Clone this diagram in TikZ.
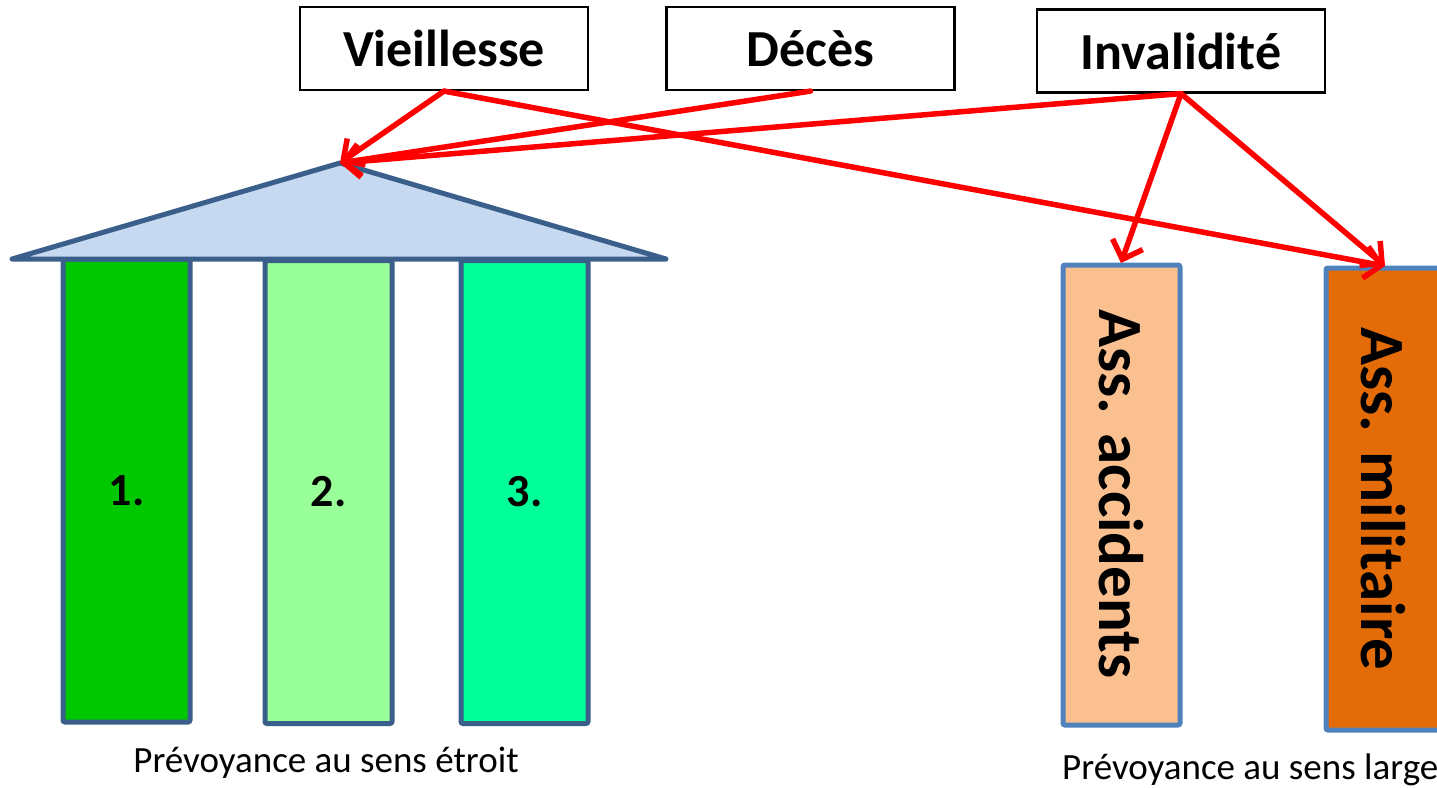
\documentclass[tikz,border=0pt]{standalone}
\usepackage{fontspec}
\setmainfont{Carlito}
\usetikzlibrary{arrows.meta}
\definecolor{roofF}{HTML}{C6D9F1}
\definecolor{roofD}{HTML}{3A5F8B}
\definecolor{colA}{HTML}{00C800}
\definecolor{colB}{HTML}{99FF99}
\definecolor{colC}{HTML}{00FF99}
\definecolor{accF}{HTML}{FAC090}
\definecolor{milF}{HTML}{E36C09}
\definecolor{sideD}{HTML}{4F81BD}
\definecolor{arrR}{HTML}{FF0000}
\tikzset{
  riskbox/.style={draw=black, line width=2.2pt, fill=white, minimum width=288pt, minimum height=83pt, inner sep=0pt,
    font=\fontsize{52}{60}\selectfont\bfseries},
  pillar/.style={draw=roofD, line width=5pt, rounded corners=2pt, minimum width=127pt, minimum height=463pt, inner sep=0pt,
    font=\fontsize{46}{52}\selectfont\bfseries},
  sidebox/.style={draw=sideD, line width=5pt, rounded corners=2pt, minimum width=117pt, inner sep=0pt},
  vtext/.style={rotate=-90, font=\fontsize{63}{70}\selectfont\bfseries, inner sep=0pt},
  link/.style={draw=arrR, line width=5.5pt, line cap=round, -{Straight Barb[length=16pt,width=32pt,line width=5.5pt]}},
  caption/.style={font=\fontsize{37}{44}\selectfont, inner sep=0pt}
}
\begin{document}
\begin{tikzpicture}[x=1pt,y=-1pt]
\useasboundingbox (0,0) rectangle (1437,787);
% top boxes
\node[riskbox] (viel) at (444,48.5) {Vieillesse};
\node[riskbox] (deces) at (810.5,48.5) {Décès};
\node[riskbox] (inval) at (1181,51) {Invalidité};
% pillars
\node[pillar, fill=colA] (p1) at (126.5,490.5) {1.};
\node[pillar, fill=colB] (p2) at (328.5,492) {2.};
\node[pillar, fill=colC] (p3) at (524.5,492) {3.};
% roof
\coordinate (apex) at (340,163);
\coordinate (roofL) at (12,259);
\coordinate (roofR) at (666,259);
\draw[draw=roofD, fill=roofF, line width=5pt, line join=round, line cap=round] (roofL) -- (apex) -- (roofR) -- cycle;
% side boxes
\node[sidebox, fill=accF, minimum height=460pt] (acc) at (1121.5,495) {};
\node[vtext] (acctxt) at (1121,494) {Ass. accidents};
\node[sidebox, fill=milF, minimum height=462pt] (mil) at (1384.5,499) {};
\node[vtext] (miltxt) at (1383,499) {Ass. militaire};
\coordinate (acctop) at (1121,263);
\coordinate (miltop) at (1385,266);
% captions
\node[caption] (capL) at (326,763) {Prévoyance au sens étroit};
\node[caption, anchor=west] (capR) at (1062,770) {Prévoyance au sens large};
% arrows
\draw[link] (viel.south) -- (apex);
\draw[link] (viel.south) -- (miltop);
\draw[link] (deces.south) -- (apex);
\draw[link] (inval.south) -- (apex);
\draw[link] (inval.south) -- (acctop);
\draw[link] (inval.south) -- (miltop);
\end{tikzpicture}
\end{document}
